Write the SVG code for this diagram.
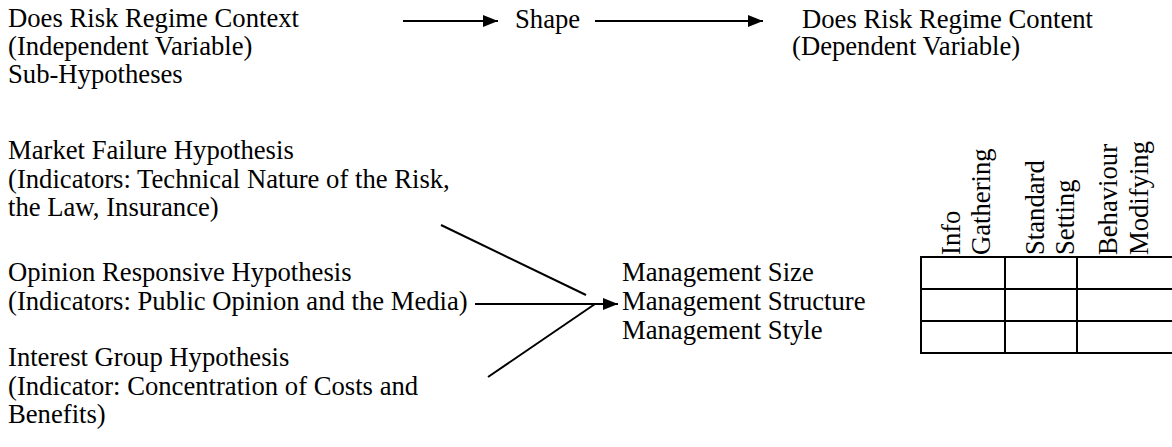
<svg xmlns="http://www.w3.org/2000/svg" width="1172" height="447" viewBox="0 0 1172 447">
<style>
text{font-family:"Liberation Serif","Times New Roman",serif;font-size:26.67px;fill:#000}
.ln{stroke:#000;stroke-width:2;fill:none}
.tb{stroke:#000;stroke-width:2;fill:none}
</style>
<defs>
<marker id="ah" markerUnits="userSpaceOnUse" markerWidth="16" markerHeight="14" refX="15" refY="6" orient="auto"><path d="M0,0 L15,6 L0,12 z" fill="#000"/></marker>
</defs>
<rect width="1172" height="447" fill="#fff"/>
<g id="context">
<text x="8" y="27">Does Risk Regime Context</text>
<text x="8" y="55">(Independent Variable)</text>
<text x="8" y="83">Sub-Hypotheses</text>
</g>
<g id="shape"><text x="515" y="28">Shape</text></g>
<g id="content">
<text x="802" y="28">Does Risk Regime Content</text>
<text x="792" y="55">(Dependent Variable)</text>
</g>
<g id="market">
<text x="8" y="159">Market Failure Hypothesis</text>
<text x="8" y="187.5">(Indicators: Technical Nature of the Risk,</text>
<text x="8" y="216">the Law, Insurance)</text>
</g>
<g id="opinion">
<text x="8" y="281">Opinion Responsive Hypothesis</text>
<text x="8" y="310">(Indicators: Public Opinion and the Media)</text>
</g>
<g id="interest">
<text x="8" y="366">Interest Group Hypothesis</text>
<text x="8" y="394.5">(Indicator: Concentration of Costs and</text>
<text x="8" y="423">Benefits)</text>
</g>
<g id="management">
<text x="622" y="281">Management Size</text>
<text x="622" y="310">Management Structure</text>
<text x="622" y="339">Management Style</text>
</g>
<g id="table">
<rect class="tb" x="921" y="257" width="260" height="96"/>
<line class="tb" x1="921" y1="289" x2="1172" y2="289"/>
<line class="tb" x1="921" y1="321" x2="1172" y2="321"/>
<line class="tb" x1="1005" y1="257" x2="1005" y2="353"/>
<line class="tb" x1="1077" y1="257" x2="1077" y2="353"/>
<text transform="translate(960,255) rotate(-90)">Info</text>
<text transform="translate(990,255) rotate(-90)">Gathering</text>
<text transform="translate(1044,255) rotate(-90)">Standard</text>
<text transform="translate(1073.5,255) rotate(-90)">Setting</text>
<text transform="translate(1116.5,255) rotate(-90)">Behaviour</text>
<text transform="translate(1148,255) rotate(-90)">Modifying</text>
</g>
<g id="connectors">
<line class="ln" x1="403" y1="21" x2="498" y2="21" marker-end="url(#ah)"/>
<line class="ln" x1="595" y1="21" x2="763" y2="21" marker-end="url(#ah)"/>
<line class="ln" x1="441" y1="225" x2="586" y2="295"/>
<line class="ln" x1="475" y1="304" x2="618" y2="304" marker-end="url(#ah)"/>
<line class="ln" x1="488" y1="377" x2="595" y2="304"/>
</g>
</svg>
